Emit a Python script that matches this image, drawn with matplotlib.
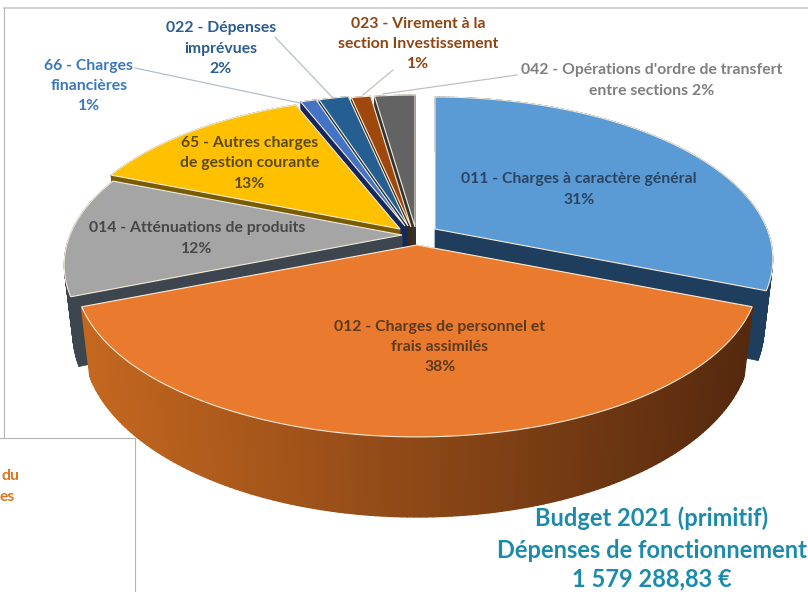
import numpy as np
import matplotlib
matplotlib.use("Agg")
import matplotlib.pyplot as plt
from matplotlib.collections import PolyCollection
from matplotlib.patches import Polygon

plt.rcParams['font.family'] = ['Lato', 'DejaVu Sans']

# data
codes = ["011", "012", "014", "65", "66", "022", "023", "042"]
shares = [31, 38, 12, 13, 0.9, 1.7, 1.1, 2.3]

# styles / layout
top_colors = ["#5b9bd5", "#ea7a2e", "#a5a5a5", "#ffc000", "#4472c4", "#255e91", "#9e480e", "#636363"]
side_colors = ["#1f3d5c", "#8a4a1a", "#3d464e", "#7a5c00", "#14275e", "#12304a", "#4f2407", "#333333"]
apex = [(435, 229), (417, 245), (402, 235), (400, 229), (405, 226), (408, 226), (411, 227), (415, 227)]
x_scale = [1, 1.012, 1, 1, 1, 1, 1, 1]
draw_order = [7, 6, 5, 4, 0, 3, 2, 1]
R, S, K, H, TAPER = 332.0, 156.4, 0.185, 65.0, 0.025

fig = plt.figure(figsize=(8.08, 5.92), dpi=100)
ax = fig.add_axes([0, 0, 1, 1])
ax.set_xlim(0, 808)
ax.set_ylim(592, 0)
ax.axis("off")


def project(i, theta, z=0.0):
    """Perspective view of the pie disc; theta clockwise from 12 o'clock."""
    cx, cy = apex[i]
    theta = np.radians(theta)
    w = 1 + K * np.cos(theta)
    x = R * x_scale[i] * (1 - TAPER * z) * np.sin(theta) / w
    y = (-S * np.cos(theta) + H * z) / w
    return cx + x, cy + y


edges = np.concatenate([[0], np.cumsum(shares)]) / np.sum(shares) * 360.0

for i in draw_order:
    c = apex[i]
    th = np.linspace(edges[i], edges[i + 1], max(4, int(shares[i] * 4)))
    xt, yt = project(i, th)
    xb, yb = project(i, th, 1.0)
    top_c = (c[0], c[1])
    bot_c = (c[0], c[1] + H)
    # radial cut faces
    for k in (0, -1):
        ax.add_patch(Polygon([top_c, (xt[k], yt[k]), (xb[k], yb[k]), bot_c], closed=True,
                             fc=side_colors[i], ec=side_colors[i], lw=0.5, zorder=1))
    # rim, in strips
    quads = [[(xt[j], yt[j]), (xt[j + 1], yt[j + 1]), (xb[j + 1], yb[j + 1]), (xb[j], yb[j])]
             for j in range(len(th) - 1)]
    if codes[i] == "012":
        f = np.clip((0.5 * (xt[:-1] + xt[1:]) - 85) / (750 - 85), 0, 1)[:, None]
        a = np.array(matplotlib.colors.to_rgb("#c4671f"))
        b = np.array(matplotlib.colors.to_rgb("#55290e"))
        cols = a * (1 - f) + b * f
        lw = 1.4
    else:
        cols = [side_colors[i]] * len(quads)
        lw = 0.6
    ax.add_collection(PolyCollection(quads, facecolors=cols, edgecolors=cols, linewidths=lw, zorder=1))
    # top face
    pts = [top_c] + list(zip(xt, yt))
    ax.add_patch(Polygon(pts, closed=True, fc=top_colors[i], ec="#f4ead8", lw=0.8, zorder=1))

# frame fragments
LINE = "#c9c9c9"
ax.plot([4, 808], [8, 8], color=LINE, lw=1.2, zorder=0)
ax.plot([4, 4], [8, 437], color="#b5b5b5", lw=0.8, zorder=0)
ax.plot([0, 134.5, 134.5], [437.5, 437.5, 592], color="#b5b5b5", lw=0.8, zorder=0)

# leader lines
leaders = [([135, 300], [68, 103], "#b4bfca"), ([275, 333], [37, 98], "#b4bfca"),
           ([393, 363], [70, 95], "#c8c0b8"), ([517, 383], [75, 94], "#c0c0c0")]
for lx, ly, col in leaders:
    ax.plot(lx, ly, color=col, lw=0.9, zorder=2)

# labels
FS = 11.3
labels = [
    (89, 86, "66 - Charges\nfinancières\n1%", "#3a78b8"),
    (221, 48.5, "022 - Dépenses\nimprévues\n2%", "#2b5c90"),
    (418, 44, "023 - Virement à la\nsection Investissement\n1%", "#8f4412"),
    (652, 80.5, "042 - Opérations d'ordre de transfert\nentre sections 2%", "#7f7f7f"),
    (579, 189.5, "011 - Charges à caractère général\n31%", "#2a4462"),
    (440, 347, "012 - Charges de personnel et\nfrais assimilés\n38%", "#5c3a1e"),
    (197, 238.5, "014 - Atténuations de produits\n12%", "#474747"),
    (250, 163.5, "65 - Autres charges\nde gestion courante\n13%", "#5a4a12"),
]
for x, y, s, col in labels:
    ax.text(x, y, s, ha="center", va="center", color=col, fontsize=FS, fontweight="bold",
            linespacing=1.58, zorder=3)

ax.text(20, 476, "du", ha="right", va="center", color="#d9781f", fontsize=FS, fontweight="bold")
ax.text(15, 497, "es", ha="right", va="center", color="#d9781f", fontsize=FS, fontweight="bold")

for y, s in [(518, "Budget 2021 (primitif)"), (550, "Dépenses de fonctionnement"), (579, "1 579 288,83 €")]:
    ax.text(652, y, s, ha="center", va="center", color="#1c8bab", fontsize=17.0, fontweight="bold", zorder=3)

fig.savefig("out.png", dpi=100)
